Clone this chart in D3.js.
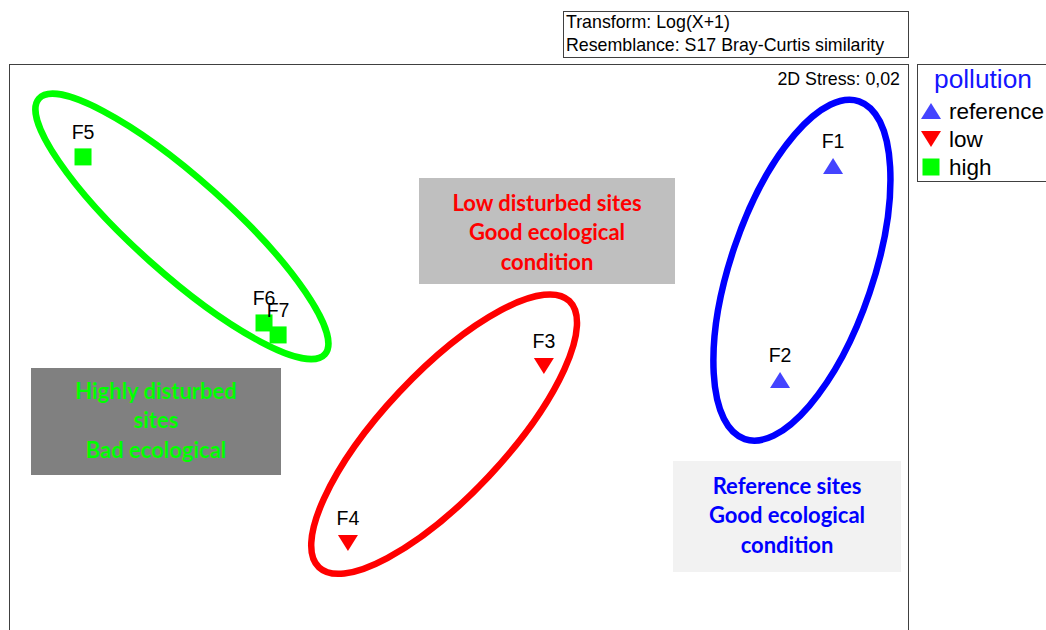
<!DOCTYPE html>
<html>
<head>
<meta charset="utf-8">
<script src="https://cdn.jsdelivr.net/npm/d3@7"></script>
<style>
  body { margin: 0; background: #fff; }
  #js_chart { width: 1046px; height: 630px; overflow: hidden; }
  .frame { fill: none; stroke: #404040; stroke-width: 1; }
  .lbl { font-family: "Liberation Sans", Arial, sans-serif; fill: #000; }
  .note { font-family: Lato, "Open Sans", sans-serif; font-weight: bold; text-anchor: middle; }
</style>
</head>
<body>
<div id="js_chart"></div>
<script>
//////////////////////////////////////////////////////////////////////////////
// #region Data
//

// nMDS site scores
var sites    = ["F1", "F2", "F3", "F4", "F5", "F6", "F7"];
var scoreX   = [1.25, 1.073, 0.285, -0.369, -1.253, -0.649, -0.602];
var scoreY   = [0.66, -0.054, -0.008, -0.598, 0.690, 0.136, 0.096];
var siteGrp  = ["reference", "reference", "low", "low", "high", "high", "high"];

// pollution factor levels
var levels      = ["reference", "low", "high"];
var levelColors = ["#4444ff", "#ff0000", "#00ff00"];

// group ellipses (centre, semi axes in score units, tilt in degrees)
var ellGroup = ["reference", "low", "high"];
var ellCx    = [1.146, -0.048, -0.923];
var ellCy    = [0.312, -0.235, 0.458];
var ellRx    = [0.595, 0.61, 0.64];
var ellRy    = [0.238, 0.205, 0.158];
var ellTilt  = [-71.3, -46.8, 41.8];
var ellColor = ["#0000ff", "#ff0000", "#00ff00"];

var headerLines = ["Transform: Log(X+1)", "Resemblance: S17 Bray-Curtis similarity"];
var stressText  = "2D Stress: 0,02";

// 
// #endregion Data
//////////////////////////////////////////////////////////////////////////////

//////////////////////////////////////////////////////////////////////////////
// #region Drawing Code
//

var svg = d3.select("#js_chart").append("svg")
  .attr("width", 1046)
  .attr("height", 630);

// plot frame
var fx0 = 9, fx1 = 908, fy0 = 64, fy1 = 663.4;

var x = d3.scaleLinear().domain([-1.5, 1.5]).range([fx0, fx1]);
var y = d3.scaleLinear().domain([-1, 1]).range([fy1, fy0]);
var unit = x(1) - x(0);

svg.append("rect")
  .attr("x", fx0 + 0.5).attr("y", fy0 + 0.5)
  .attr("width", fx1 - fx0).attr("height", fy1 - fy0)
  .classed("frame", true);

// header box
svg.append("rect")
  .attr("x", 563.5).attr("y", 11.5).attr("width", 345).attr("height", 46)
  .classed("frame", true);

headerLines.forEach(function(t, i) {
    svg.append("text")
      .attr("x", 566).attr("y", 28 + i * 23)
      .attr("font-size", 17.8)
      .classed("lbl", true)
      .text(t);
});

svg.append("text")
  .attr("x", 900).attr("y", 85)
  .attr("text-anchor", "end")
  .attr("font-size", 17.8)
  .classed("lbl", true)
  .text(stressText);

// annotation boxes
var notes = [
    { x: 419, y: 178, w: 256, h: 106, fill: "#bfbfbf", color: "#ff0000", base: 211,
      lines: ["Low disturbed sites", "Good ecological", "condition"] },
    { x: 31, y: 368, w: 250, h: 107, fill: "#808080", color: "#00ff00", base: 399,
      lines: ["Highly disturbed", "sites", "Bad ecological"] },
    { x: 673, y: 461, w: 228, h: 111, fill: "#f2f2f2", color: "#0000ff", base: 494,
      lines: ["Reference sites", "Good ecological", "condition"] }
];

notes.forEach(function(n) {
    svg.append("rect")
      .attr("x", n.x).attr("y", n.y).attr("width", n.w).attr("height", n.h)
      .attr("fill", n.fill);
    n.lines.forEach(function(t, i) {
        svg.append("text")
          .attr("x", n.x + n.w / 2).attr("y", n.base + i * 29.3)
          .attr("font-size", 22)
          .attr("fill", n.color)
          .classed("note", true)
          .text(t);
    });
});

// ellipses
ellGroup.forEach(function(g, i) {
    svg.append("ellipse")
      .attr("transform", "translate(" + x(ellCx[i]) + "," + y(ellCy[i]) + ") rotate(" + ellTilt[i] + ")")
      .attr("rx", ellRx[i] * unit)
      .attr("ry", ellRy[i] * unit)
      .attr("fill", "none")
      .attr("stroke", ellColor[i])
      .attr("stroke-width", 6.5);
});

function marker(sel, grp, cx, cy) {
    var c = levelColors[levels.indexOf(grp)];
    if (grp === "reference") {
        sel.append("path").attr("d", "M" + (cx - 10) + "," + (cy + 8) + "L" + (cx + 10) + "," + (cy + 8) + "L" + cx + "," + (cy - 8) + "Z").attr("fill", c);
    } else if (grp === "low") {
        sel.append("path").attr("d", "M" + (cx - 10) + "," + (cy - 8) + "L" + (cx + 10) + "," + (cy - 8) + "L" + cx + "," + (cy + 8) + "Z").attr("fill", c);
    } else {
        sel.append("rect").attr("x", cx - 8.5).attr("y", cy - 8.5).attr("width", 17).attr("height", 17).attr("fill", c);
    }
}

// site points and labels
sites.forEach(function(s, i) {
    var px = x(scoreX[i]), py = y(scoreY[i]);
    marker(svg, siteGrp[i], px, py);
    svg.append("text")
      .attr("x", px).attr("y", py - 18)
      .attr("text-anchor", "middle")
      .attr("font-size", 19.5)
      .classed("lbl", true)
      .text(s);
});

// legend
svg.append("rect")
  .attr("x", 917.5).attr("y", 64.5).attr("width", 140).attr("height", 117)
  .classed("frame", true);

svg.append("text")
  .attr("x", 934).attr("y", 88)
  .attr("font-size", 26.3)
  .classed("lbl", true)
  .style("fill", "#1515ff")
  .text("pollution");

levels.forEach(function(l, i) {
    var ly = 111 + i * 28;
    marker(svg, l, 931, ly);
    svg.append("text")
      .attr("x", 949).attr("y", ly + 7.5)
      .attr("font-size", 22.5)
      .classed("lbl", true)
      .text(l);
});

// 
// #endregion Drawing Code
//////////////////////////////////////////////////////////////////////////////
</script>
</body>
</html>
